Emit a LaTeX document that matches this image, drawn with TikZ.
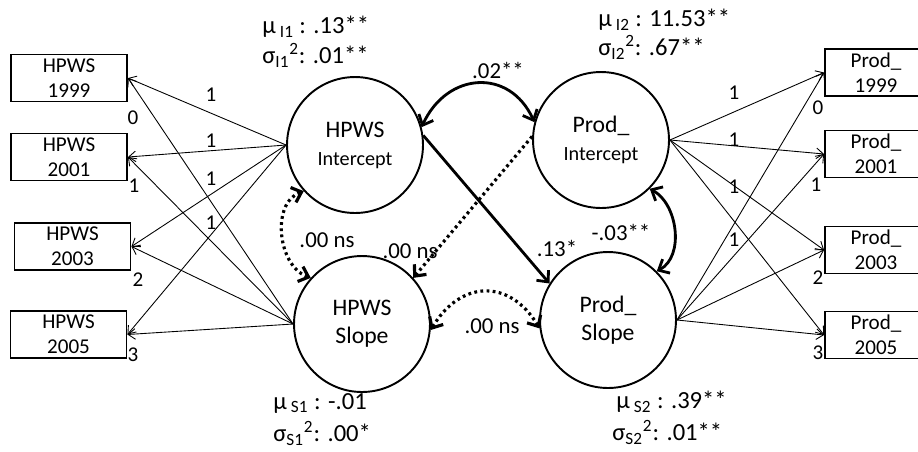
\documentclass[tikz,border=0pt]{standalone}
\usepackage{fontspec}
\setmainfont{Carlito}
\usetikzlibrary{arrows.meta}

\newcommand{\ictfont}{\fontsize{11.5}{13}\selectfont}

\begin{document}
\begin{tikzpicture}[x=0.02cm,y=-0.02cm,
	obs/.style={draw,line width=1.1pt,rectangle,minimum height=0.94cm,inner ysep=1pt,align=center,font=\fontsize{12}{14.2}\selectfont},
	lat/.style={draw,line width=1.1pt,circle,minimum size=2.72cm,inner sep=0pt,align=center,font=\fontsize{13.5}{16}\selectfont},
	loading/.style={line width=0.5pt,-{Straight Barb[length=4pt,width=6pt]}},
	regpath/.style={line width=1.6pt,-{Straight Barb[length=5pt,width=9pt]}},
	covar/.style={line width=1.6pt,{Straight Barb[length=5pt,width=9pt]}-{Straight Barb[length=5pt,width=9pt]}},
	dotline/.style={line width=1.8pt,dash pattern=on 1.6pt off 1.9pt},
	weight/.style={inner sep=0pt,font=\fontsize{12}{14}\selectfont},
	coef/.style={inner sep=0pt,font=\fontsize{13}{15}\selectfont},
	anno/.style={inner sep=0pt,anchor=west,font=\fontsize{14}{16}\selectfont}]

	\useasboundingbox (0,0) rectangle (918,451);
	\clip (0,0) rectangle (918,451);

	\node[obs,minimum width=2.32cm] (h99) at (69,78) {HPWS\\1999};
	\node[obs,minimum width=2.32cm] (h01) at (69,157) {HPWS\\2001};
	\node[obs,minimum width=2.32cm] (h03) at (72.5,246.5) {HPWS\\2003};
	\node[obs,minimum width=2.32cm] (h05) at (68.5,334.5) {HPWS\\2005};

	\node[obs,minimum width=2.04cm] (p99) at (876,72.5) {Prod\_\\1999};
	\node[obs,minimum width=2.04cm] (p01) at (876,154) {Prod\_\\2001};
	\node[obs,minimum width=2.04cm] (p03) at (876,250) {Prod\_\\2003};
	\node[obs,minimum width=2.04cm] (p05) at (876,335) {Prod\_\\2005};

	\node[lat] (hI) at (355,145) {HPWS\\\ictfont Intercept};
	\node[lat] (hS) at (362,324) {HPWS\\Slope};
	\node[lat] (pI) at (601,140) {Prod\_\\\ictfont Intercept};
	\node[lat] (pS) at (608,320) {Prod\_\\Slope};

	\foreach \b in {h99,h01,h03,h05} {
		\draw[loading] (hI.west) -- (\b.east);
		\draw[loading] (hS.west) -- (\b.east);
	}
	\foreach \b in {p99,p01,p03,p05} {
		\draw[loading] (pI.east) -- (\b.west);
		\draw[loading] (pS.east) -- (\b.west);
	}

	\foreach \y [count=\i] in {95,141,179,223}
		\node[weight] (wh\i) at (211,\y) {1};
	\foreach \y [count=\i] in {93,140,187,240}
		\node[weight] (wp\i) at (734,\y) {1};
	\foreach \x/\y/\t [count=\i] in {133/118/0,134/186/1,138/280/2,133/355/3}
		\node[weight] (sh\i) at (\x,\y) {\t};
	\foreach \x/\y/\t [count=\i] in {818/108/0,816/185/1,818/278/2,818/353/3}
		\node[weight] (sp\i) at (\x,\y) {\t};

	\draw[covar] (hI.15) .. controls +(25,-55) and +(-25,-55) .. (pI.165);
	\draw[regpath] (hI.8) -- (pS.148);
	\draw[dotline,-{Straight Barb[length=5pt,width=9pt]}] (pI.177) -- (hS.42);
	\draw[dotline,{Straight Barb[length=5pt,width=9pt]}-{Straight Barb[length=5pt,width=9pt]}]
		(hI.222) .. controls +(-33,12) and +(-33,-12) .. (hS.138);
	\draw[dotline,{Straight Barb[length=5pt,width=9pt]}-{Straight Barb[length=5pt,width=9pt]}]
		(hS.-5) .. controls +(30,-50) and +(-30,-50) .. (pS.187);
	\draw[covar] (pI.-45) .. controls +(28,15) and +(28,-15) .. (pS.45);

	\node[coef] (c1) at (498,70) {.02**};
	\node[coef] (c2) at (557,248) {.13*};
	\node[coef] (c3) at (410,251) {.00 ns};
	\node[coef] (c4) at (327,240) {.00 ns};
	\node[coef] (c5) at (492,326) {.00 ns};
	\node[coef] (c6) at (621,232) {-.03**};

	\node[anno] (mI1) at (262,27) {μ\,\textsubscript{I1} : .13**};
	\node[anno] (sI1) at (262,55) {σ\textsubscript{I1}\textsuperscript{2}: .01**};
	\node[anno] (mI2) at (598,20) {μ\,\textsubscript{I2} : 11.53**};
	\node[anno] (sI2) at (598,47) {σ\textsubscript{I2}\textsuperscript{2}: .67**};
	\node[anno] (mS1) at (273,403) {μ\,\textsubscript{S1} : -.01};
	\node[anno] (sS1) at (273,433) {σ\textsubscript{S1}\textsuperscript{2}: .00*};
	\node[anno] (mS2) at (616,402) {μ\,\textsubscript{S2} : .39**};
	\node[anno] (sS2) at (612,432) {σ\textsubscript{S2}\textsuperscript{2}: .01**};

\end{tikzpicture}
\end{document}
